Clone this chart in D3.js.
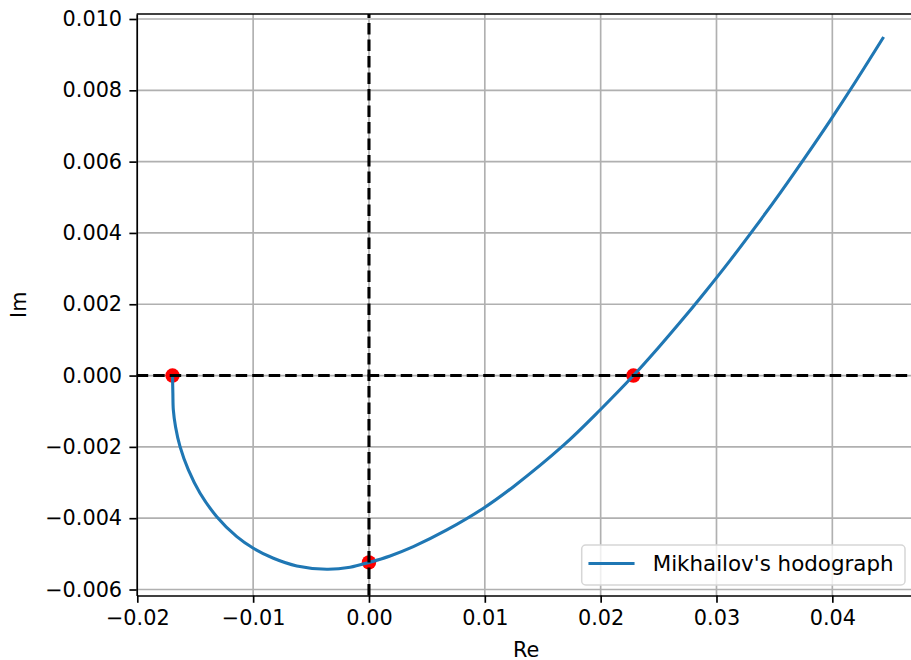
<!DOCTYPE html>
<html>
<head>
<meta charset="utf-8">
<script src="https://cdn.jsdelivr.net/npm/d3@7"></script>
<style>
  body { margin: 0; background: #fff; overflow: hidden; }
  svg { display: block; font-family: "DejaVu Sans", sans-serif; }
</style>
</head>
<body>
<div id="chart"></div>
<script>
// hodograph, ordered by increasing frequency
const curveRe = [-0.01696, -0.01693, -0.01689, -0.01670, -0.01631, -0.01559, -0.01458, -0.01314,
  -0.01141, -0.00998, -0.00825, -0.00623, -0.00364, -0.00163, 0.00000, 0.00182, 0.00383,
  0.00672, 0.00988, 0.01247, 0.01678, 0.01995, 0.02283, 0.02485, 0.02686, 0.02902, 0.03118,
  0.03333, 0.03549, 0.03765, 0.03981, 0.04197, 0.04436];
const curveIm = [0.00000, -0.000488, -0.000965, -0.001433, -0.001994, -0.002647, -0.003301, -0.003957,
  -0.004518, -0.004843, -0.005123, -0.005339, -0.005432, -0.005376, -0.005240, -0.005059, -0.004798,
  -0.004330, -0.003721, -0.003116, -0.001960, -0.000965, 0.00000, 0.000732, 0.001492, 0.002345,
  0.003231, 0.004156, 0.005118, 0.006120, 0.007152, 0.008226, 0.009459];

// marked points (crossings of the axes)
const pointsRe = [-0.01696, 0.0, 0.02283];
const pointsIm = [0.0, -0.00524, 0.0];

const xTicks = [-0.02, -0.01, 0.00, 0.01, 0.02, 0.03, 0.04];
const yTicks = [-0.006, -0.004, -0.002, 0.000, 0.002, 0.004, 0.006, 0.008, 0.010];

const legendLabel = "Mikhailov's hodograph";

const W = 911, H = 660;
const plot = { left: 136.7, right: 915.5, top: 14, bottom: 595.5 };
const fontSize = 20.8;
const fontFamily = '"DejaVu Sans", sans-serif';

const svg = d3.select("#chart").append("svg")
  .attr("width", W)
  .attr("height", H);

const x = d3.scaleLinear()
  .domain([-0.020052, 0.04718])
  .range([plot.left, plot.right]);

const y = d3.scaleLinear()
  .domain([-0.006168, 0.01014])
  .range([plot.bottom, plot.top]);

svg.append("clipPath").attr("id", "plot-clip")
  .append("rect")
  .attr("x", plot.left)
  .attr("y", plot.top)
  .attr("width", plot.right - plot.left)
  .attr("height", plot.bottom - plot.top);

// grid
const grid = svg.append("g").attr("clip-path", "url(#plot-clip)");
grid.selectAll(".gx")
  .data(xTicks)
  .enter()
  .append("line")
  .attr("x1", d => x(d)).attr("x2", d => x(d))
  .attr("y1", plot.top).attr("y2", plot.bottom)
  .attr("stroke", "#b0b0b0")
  .attr("stroke-width", 1.67);
grid.selectAll(".gy")
  .data(yTicks)
  .enter()
  .append("line")
  .attr("x1", plot.left).attr("x2", plot.right)
  .attr("y1", d => y(d)).attr("y2", d => y(d))
  .attr("stroke", "#b0b0b0")
  .attr("stroke-width", 1.67);

const points = pointsRe.map((re, i) => ({ re: re, im: pointsIm[i] }));
const curve = curveRe.map((re, i) => ({ re: re, im: curveIm[i] }));

// red markers
svg.append("g")
  .selectAll("circle")
  .data(points)
  .enter()
  .append("circle")
  .attr("cx", d => x(d.re))
  .attr("cy", d => y(d.im))
  .attr("r", 7.2)
  .attr("fill", "#ff0000");

const line = d3.line()
  .x(d => x(d.re))
  .y(d => y(d.im))
  .curve(d3.curveCatmullRom.alpha(0.5));

svg.append("path")
  .datum(curve)
  .attr("fill", "none")
  .attr("stroke", "#1f77b4")
  .attr("stroke-width", 3.1)
  .attr("stroke-linejoin", "round")
  .attr("stroke-linecap", "square")
  .attr("d", line);

// dashed zero lines
svg.append("line")
  .attr("x1", plot.left).attr("x2", plot.right)
  .attr("y1", y(0)).attr("y2", y(0))
  .attr("stroke", "#000")
  .attr("stroke-width", 3.1)
  .attr("stroke-dasharray", "11.5,5");

svg.append("line")
  .attr("x1", x(0)).attr("x2", x(0))
  .attr("y1", plot.bottom).attr("y2", plot.top)
  .attr("stroke", "#000")
  .attr("stroke-width", 3.1)
  .attr("stroke-dasharray", "11.5,5");

// axes
svg.append("g")
  .attr("transform", `translate(0,${plot.bottom})`)
  .call(d3.axisBottom(x)
    .tickValues(xTicks)
    .tickFormat(d3.format(".2f"))
    .tickSizeInner(7.3)
    .tickSizeOuter(0)
    .tickPadding(7.3));

svg.append("g")
  .attr("transform", `translate(${plot.left},0)`)
  .call(d3.axisLeft(y)
    .tickValues(yTicks)
    .tickFormat(d3.format(".3f"))
    .tickSizeInner(7.3)
    .tickSizeOuter(0)
    .tickPadding(7.3));

svg.selectAll(".domain, .tick line")
  .attr("stroke", "#000")
  .attr("stroke-width", 1.67);
svg.selectAll(".tick text")
  .attr("font-family", fontFamily)
  .attr("font-size", fontSize)
  .attr("fill", "#000");

// top and right spines
svg.append("line")
  .attr("x1", plot.left).attr("x2", plot.right)
  .attr("y1", plot.top).attr("y2", plot.top)
  .attr("stroke", "#000").attr("stroke-width", 1.67);
svg.append("line")
  .attr("x1", plot.right).attr("x2", plot.right)
  .attr("y1", plot.top).attr("y2", plot.bottom)
  .attr("stroke", "#000").attr("stroke-width", 1.67);

// axis labels
svg.append("text")
  .attr("x", (plot.left + plot.right) / 2)
  .attr("y", 656.5)
  .attr("text-anchor", "middle")
  .attr("font-size", fontSize)
  .text("Re");

svg.append("text")
  .attr("transform", `translate(26,${(plot.top + plot.bottom) / 2}) rotate(-90)`)
  .attr("text-anchor", "middle")
  .attr("font-size", fontSize)
  .text("Im");

// legend
const legend = svg.append("g");
legend.append("rect")
  .attr("x", 581.7)
  .attr("y", 545)
  .attr("width", 905 - 581.7)
  .attr("height", 40)
  .attr("rx", 4)
  .attr("fill", "rgba(255,255,255,0.8)")
  .attr("stroke", "#d6d6d6")
  .attr("stroke-width", 1.5);

legend.append("line")
  .attr("x1", 590).attr("x2", 633)
  .attr("y1", 563.5).attr("y2", 563.5)
  .attr("stroke", "#1f77b4")
  .attr("stroke-width", 3.1)
  .attr("stroke-linecap", "square");

legend.append("text")
  .attr("x", 652.7)
  .attr("y", 563.5)
  .attr("dy", "0.35em")
  .attr("font-size", 21.4)
  .text(legendLabel);
</script>
</body>
</html>
